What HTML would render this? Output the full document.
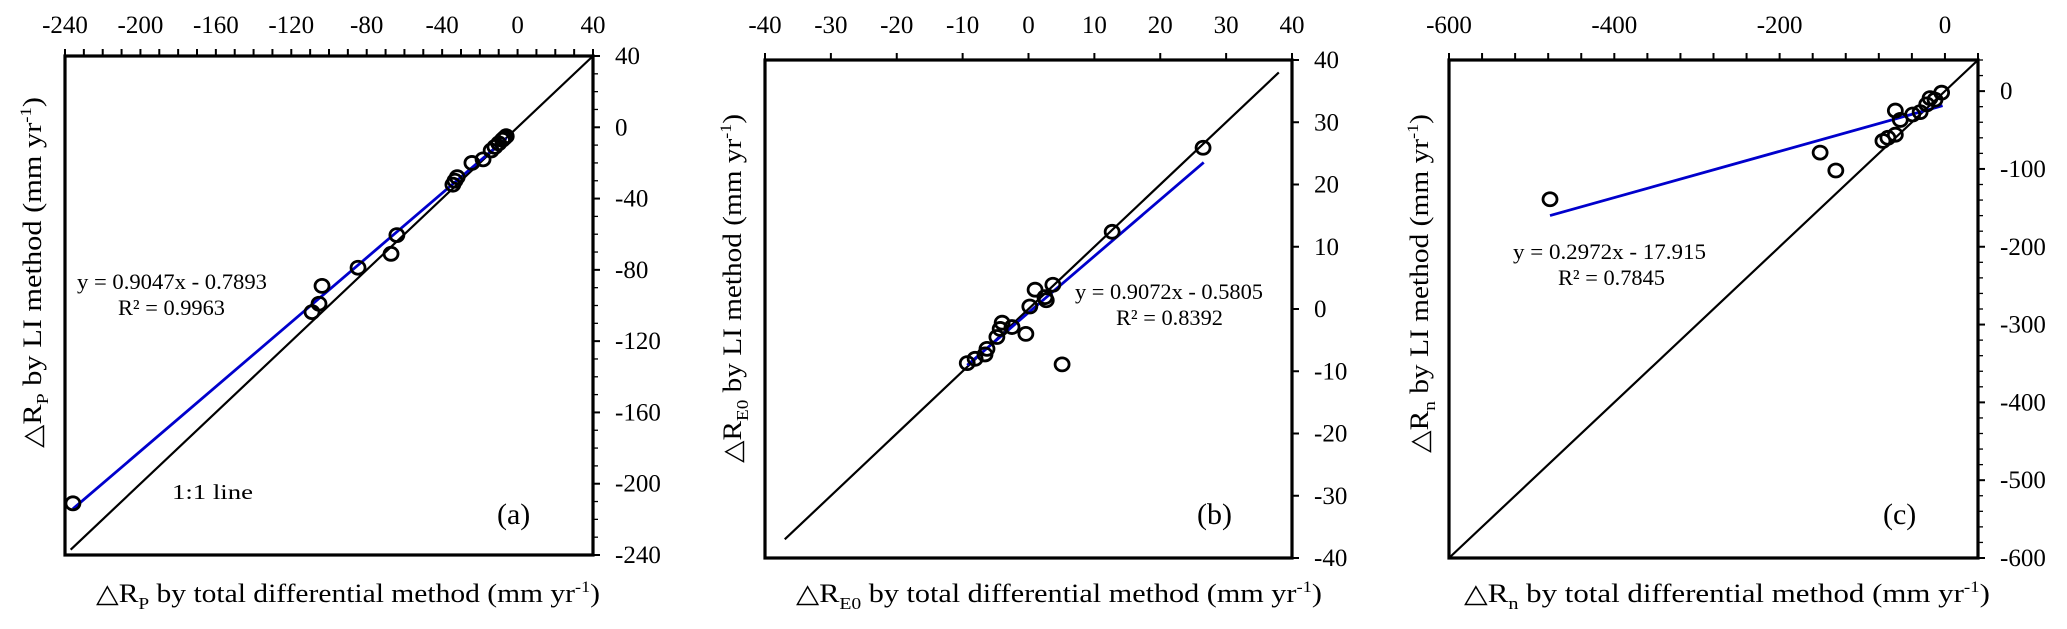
<!DOCTYPE html>
<html><head><meta charset="utf-8"><style>
html,body{margin:0;padding:0;background:#fff;}
svg{display:block;font-family:"Liberation Serif",serif;}
</style></head><body>
<svg id="c" width="2067" height="629" viewBox="0 0 2067 629"></svg>
<script>
// Panel (a)
const aX = [-235.8,-109,-105.3,-103.7,-84.6,-67.1,-64,-34.3,-33.2,-32,-24.2,-18.3,-14,-12,-10,-8,-7,-6];
const aY = [-211,-103.7,-99,-89,-78.8,-71,-60.5,-32.2,-30,-28,-20,-18,-13,-11,-9,-7,-6,-5];
const aTop = [-240,-200,-160,-120,-80,-40,0,40];
const aRight = [40,0,-40,-80,-120,-160,-200,-240];
// Panel (b)
const bX = [-9.3,-8.1,-6.6,-6.3,-4.8,-4.3,-4,-2.5,-0.4,0.2,1,2.5,2.7,3.7,12.7,26.5,5.1];
const bY = [-8.7,-8,-7.3,-6.4,-4.5,-3.2,-2.2,-2.9,-4,0.4,3.1,1.9,1.4,3.9,12.4,25.9,-8.9];
const bTop = [-40,-30,-20,-10,0,10,20,30,40];
const bRight = [40,30,20,10,0,-10,-20,-30,-40];
// Panel (c)
const cX = [-477.8,-151,-132,-60,-54,-75,-69,-60,-39,-30,-22,-18,-4,-12];
const cY = [-139,-79,-102,-25,-37,-64,-60,-56,-30,-27,-17,-9,-2,-11];
const cTop = [-600,-400,-200,0];
const cRight = [0,-100,-200,-300,-400,-500,-600];

const NS="http://www.w3.org/2000/svg";
const svg=document.getElementById('c');
function mk(tag,attrs,parent){const e=document.createElementNS(NS,tag);for(const k in attrs)e.setAttribute(k,attrs[k]);(parent||svg).appendChild(e);return e;}

function panel(o){
  const g=mk('g',{});
  
  
  const sx=v=>o.L+(v-o.min)/(o.max-o.min)*(o.R-o.L);
  const sy=v=>o.B-(v-o.min)/(o.max-o.min)*(o.B-o.T);
  for(let v=o.min;v<=o.max+1e-9;v+=o.xMinor){
    const t=mk('line',{x1:sx(v),x2:sx(v),y1:o.T,y2:o.T-7,stroke:'#000','stroke-width':2},g);
    
    
  }
  for(let v=o.min;v<=o.max+1e-9;v+=o.yMinor){
    const isMaj=o.right.some(r=>Math.abs(r-v)<1e-6);
    const t=mk('line',{x1:o.R,x2:o.R+(isMaj?7:5),y1:sy(v),y2:sy(v),stroke:'#000','stroke-width':isMaj?2:1.3},g);
    
    
  }
  o.top.forEach(v=>{
    const t=mk('text',{x:sx(v),y:33,'text-anchor':'middle','font-size':25},g);t.textContent=v;
    
    
  });
  o.right.forEach(v=>{
    const t=mk('text',{x:o.R+22,y:sy(v)+8,'font-size':25},g);t.textContent=v;
    
    
  });
  const l=mk('line',{x1:sx(o.oneFrom),y1:sy(o.oneFrom),x2:sx(o.oneTo),y2:sy(o.oneTo),stroke:'#000','stroke-width':2.2},g);
  
  
  const xs=o.xs, ys=o.ys;
  const lo=Math.min(...xs), hi=Math.max(...xs);
  const f=v=>o.slope*v+o.icpt;
  const end=o.regTo!==undefined?o.regTo:hi;
  const rl=mk('line',{x1:sx(lo),y1:sy(f(lo)),x2:sx(end),y2:sy(f(end)),stroke:'#0000cc','stroke-width':2.8},g);
  
  
  xs.forEach((v,i)=>{
    const c=mk('ellipse',{cx:sx(v),cy:sy(ys[i]),rx:7,ry:6.5,fill:'none',stroke:'#000','stroke-width':2.8},g);
    
    
  });
  const b=mk('rect',{x:o.L,y:o.T,width:o.R-o.L,height:o.B-o.T,fill:'none',stroke:'#000','stroke-width':3.2},g);
  
  
  const e1=mk('text',{x:o.eqX,y:o.eqY,'font-size':22,textLength:o.eqW,lengthAdjust:'spacingAndGlyphs'},g);e1.textContent=o.eq;
  
  
  const e2=mk('text',{x:o.r2X,y:o.eqY+26,'font-size':22,textLength:107,lengthAdjust:'spacingAndGlyphs'},g);e2.textContent=o.r2;
  
  
  const pl=mk('text',{x:o.plX,y:524,'font-size':30},g);pl.textContent=o.pl;
  
  
  const xt=mk('text',{x:o.xtX,y:602,'font-size':26,textLength:o.xtW,lengthAdjust:'spacingAndGlyphs'},g);
  xt.innerHTML='△R<tspan font-size="17" dy="7">'+o.sub+'</tspan><tspan dy="-7">'+o.xtRest+'(mm yr</tspan><tspan font-size="16" dy="-10">-1</tspan><tspan dy="10">)</tspan>';
  
  
  const yt=mk('text',{x:0,y:0,'font-size':26,textLength:o.ytW,lengthAdjust:'spacingAndGlyphs',transform:'translate('+o.ytX+','+o.ytY+') rotate(-90)'},g);
  yt.innerHTML='△R<tspan font-size="17" dy="7">'+o.sub+'</tspan><tspan dy="-7"> by LI method (mm yr</tspan><tspan font-size="16" dy="-10">-1</tspan><tspan dy="10">)</tspan>';
  
  
}

panel({id:'a',L:65,R:593,T:56,B:555,min:-240,max:40,xMinor:10,yMinor:10,top:aTop,right:aRight,
  xs:aX,ys:aY,slope:0.9047,icpt:-0.7893,oneFrom:-237,oneTo:40,
  eq:'y = 0.9047x - 0.7893',eqW:190,r2:'R² = 0.9963',eqX:77,eqY:289,r2X:118,plX:497,pl:'(a)',
  sub:'P',xtRest:' by total differential method ',xtX:96,xtW:504,ytX:41,ytY:448,ytW:351});
const lbl=mk('text',{x:172,y:499,'font-size':21,textLength:81,lengthAdjust:'spacingAndGlyphs'});lbl.textContent='1:1 line';



panel({id:'b',L:765,R:1292,T:60,B:558,min:-40,max:40,xMinor:10,yMinor:10,top:bTop,right:bRight,
  xs:bX,ys:bY,slope:0.9072,icpt:-0.5805,oneFrom:-37,oneTo:38,regTo:26.6,
  eq:'y = 0.9072x - 0.5805',eqW:188,r2:'R² = 0.8392',eqX:1075,eqY:299,r2X:1116,plX:1197,pl:'(b)',
  sub:'E0',xtRest:'  by total differential method ',xtX:796,xtW:526,ytX:741,ytY:463,ytW:349});

panel({id:'c',L:1449,R:1978,T:60,B:558,min:-600,max:40,xMinor:40,yMinor:20,top:cTop,right:cRight,
  xs:cX,ys:cY,slope:0.2972,icpt:-17.915,oneFrom:-600,oneTo:40,regTo:-2.8,
  eq:'y = 0.2972x - 17.915',eqW:193,r2:'R² = 0.7845',eqX:1513,eqY:259,r2X:1558,plX:1883,pl:'(c)',
  sub:'n',xtRest:' by total differential method ',xtX:1464,xtW:526,ytX:1428,ytY:453,ytW:339});
</script>
</body></html>
